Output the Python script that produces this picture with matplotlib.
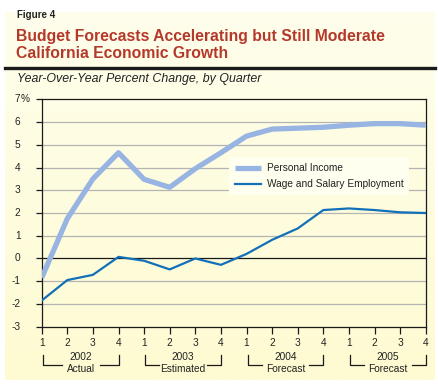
import matplotlib.pyplot as plt
import numpy as np
from matplotlib.transforms import blended_transform_factory

# quarterly year-over-year percent change, 2002 Q1 .. 2005 Q4
quarters = ["1", "2", "3", "4"] * 4
years = ["2002", "2003", "2004", "2005"]
periods = ["Actual", "Estimated", "Forecast", "Forecast"]
personal_income = [-0.85, 1.75, 3.5, 4.65, 3.48, 3.13, 3.95, 4.65,
                   5.38, 5.69, 5.73, 5.77, 5.86, 5.93, 5.93, 5.86]
wage_salary = [-1.85, -0.95, -0.72, 0.07, -0.1, -0.48, 0.0, -0.28,
               0.2, 0.82, 1.32, 2.13, 2.2, 2.13, 2.03, 2.0]
y_ticks = [-3, -2, -1, 0, 1, 2, 3, 4, 5, 6, 7]

W, H = 439, 386
fig = plt.figure(figsize=(W / 100, H / 100), dpi=100)
plt.rcParams['font.family'] = ['Liberation Sans', 'DejaVu Sans']

# cream panel with a soft vertical gradient
bg = fig.add_axes([5 / W, 1 - 380 / H, 430 / W, 368 / H], zorder=-10)
grad = np.linspace(0, 1, 256).reshape(-1, 1)
top = np.array([254, 254, 236]) / 255
bot = np.array([255, 251, 210]) / 255
img = top + (bot - top) * grad[:, :, None]
bg.imshow(img, aspect='auto', extent=[0, 1, 0, 1])
bg.axis('off')

fig.text(17 / W, 1 - 15 / H, "Figure 4", fontsize=7, fontweight='bold',
         va='center', ha='left', color='#222222')
fig.text(16 / W, 1 - 36 / H, "Budget Forecasts Accelerating but Still Moderate",
         fontsize=11.3, fontweight='bold', color='#B5392B', va='center', ha='left')
fig.text(16 / W, 1 - 53 / H, "California Economic Growth",
         fontsize=11.3, fontweight='bold', color='#B5392B', va='center', ha='left')
fig.add_artist(plt.Line2D([5 / W, 435 / W], [1 - 68 / H, 1 - 68 / H],
                          color='#1a1a1a', lw=2.4, transform=fig.transFigure))
fig.text(17 / W, 1 - 79 / H, "Year-Over-Year Percent Change, by Quarter",
         fontsize=8.9, style='italic', color='#222222', va='center', ha='left')

ax = fig.add_axes([41.7 / W, 1 - 326.7 / H, 384 / W, 227.4 / H])
ax.set_facecolor('none')
x = np.arange(len(personal_income))
ax.plot(x, personal_income, color='#98B4E2', lw=3.8, solid_capstyle='butt',
        label='Personal Income', zorder=3)
ax.plot(x, wage_salary, color='#1170B8', lw=1.6,
        label='Wage and Salary Employment', zorder=4)

ax.set_xlim(0, 15)
ax.set_ylim(-3, 7)
for v in y_ticks:
    if v not in (-3, 0, 7):
        ax.axhline(v, color='#B4B4B4', lw=0.9, zorder=1)
ax.axhline(0, color='#1a1a1a', lw=0.9, zorder=2)
for s in ax.spines.values():
    s.set_color('#1a1a1a')
    s.set_linewidth(0.9)

ax.set_yticks(y_ticks)
ax.set_yticklabels([])
ax.tick_params(axis='y', length=4, width=0.9, color='#1a1a1a')
tr = blended_transform_factory(fig.transFigure, ax.transData)
for v in y_ticks:
    ax.text(20.5 / W, v, str(v), transform=tr, ha='right', va='center',
            fontsize=7.3, color='#222222', clip_on=False)
ax.text(20.5 / W, 7, "%", transform=tr, ha='left', va='center',
        fontsize=7.3, color='#222222', clip_on=False)

ax.set_xticks(x)
ax.set_xticklabels(quarters, fontsize=7.3, color='#222222')
ax.tick_params(axis='x', length=5, width=0.9, color='#1a1a1a', pad=3)

# year brackets below the quarter labels
trx = blended_transform_factory(ax.transData, fig.transFigure)
half_gap = {"Actual": 0.75, "Estimated": 0.95, "Forecast": 0.93}
y_top = 1 - 355 / H
y_bot = 1 - 365 / H
for i, (yr, per) in enumerate(zip(years, periods)):
    x0, x1 = i * 4 + 0.05, i * 4 + 3
    xc = (x0 + x1) / 2
    g = half_gap[per]
    kw = dict(color='#1a1a1a', lw=0.9, transform=trx, clip_on=False)
    ax.plot([x0, x0, xc - g], [y_top, y_bot, y_bot], **kw)
    ax.plot([xc + g, x1, x1], [y_bot, y_bot, y_top], **kw)
    ax.text(xc, 1 - 357 / H, yr, transform=trx, ha='center', va='center',
            fontsize=7.3, color='#222222')
    ax.text(xc, 1 - 369 / H, per, transform=trx, ha='center', va='center',
            fontsize=7.3, color='#222222')

leg = ax.legend(loc='upper left', bbox_to_anchor=((229 - 41.7) / 384, (326.7 - 157) / 227.4),
                frameon=True, fontsize=7.3, handlelength=2.6, handletextpad=0.5,
                borderpad=0.6, labelspacing=0.6, borderaxespad=0)
leg.get_frame().set_facecolor('#FFFFF0')
leg.get_frame().set_edgecolor('none')
leg.get_frame().set_alpha(1)
leg.get_frame().set_boxstyle('square', pad=0)
for t in leg.get_texts():
    t.set_color('#222222')

fig.savefig('out.png', dpi=100, facecolor='white')
